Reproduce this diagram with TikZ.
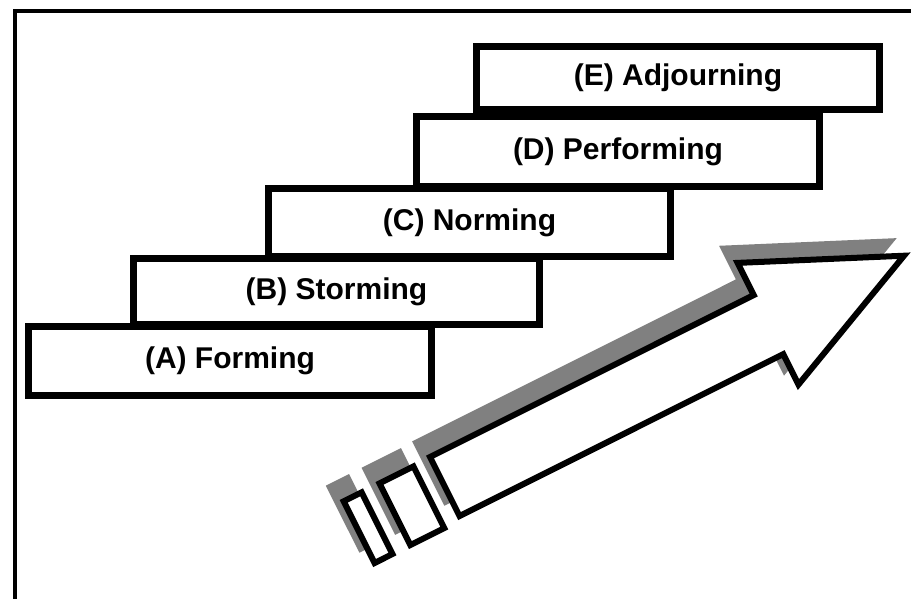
\documentclass[tikz,border=0pt]{standalone}
\usepackage{fontspec}
\setmainfont{Liberation Sans}
\begin{document}
\begin{tikzpicture}[x=1pt, y=-1pt,
    stage/.style={draw=black, fill=white, line width=7pt, inner sep=0pt,
      minimum width=403pt, font=\bfseries\fontsize{30}{36}\selectfont},
    shade/.style={fill=gray, draw=gray, line width=6pt, line join=miter},
    outline/.style={fill=white, draw=black, line width=6pt, line join=miter}]
  \useasboundingbox (0,0) rectangle (911,599);
  % frame
  \draw[line width=4pt] (15.3,605) -- (15.3,11.3) -- (915,11.3);
  % stairs
  \node[stage, minimum height=63pt] (stageE) at (678,78) {(E) Adjourning};
  \node[stage, minimum height=70pt] (stageD) at (618,151.5) {(D) Performing};
  \node[stage, minimum height=68pt, minimum width=402pt] (stageC) at (469.5,222.5) {(C) Norming};
  \node[stage, minimum height=66pt, minimum width=406pt] (stageB) at (336.5,291.5) {(B) Storming};
  \node[stage, minimum height=69pt] (stageA) at (230,361) {(A) Forming};
  % arrow
  \begin{scope}[shift={(430,457)}, rotate=26.57]
    \begin{scope}[shift={(-6,-19)}]
      \filldraw[shade] (-97,1) rectangle (-77,70);
      \filldraw[shade] (-57,1) rectangle (-19,70);
      \filldraw[shade] (0,0) -- (362,0) -- (362,-36) -- (514,32) -- (362,100) -- (362,66) -- (0,66) -- cycle;
    \end{scope}
    \filldraw[outline] (-97,1) rectangle (-77,70);
    \filldraw[outline] (-57,1) rectangle (-19,70);
    \filldraw[outline] (0,0) -- (362,0) -- (362,-36) -- (514,32) -- (362,100) -- (362,66) -- (0,66) -- cycle;
  \end{scope}
\end{tikzpicture}
\end{document}
